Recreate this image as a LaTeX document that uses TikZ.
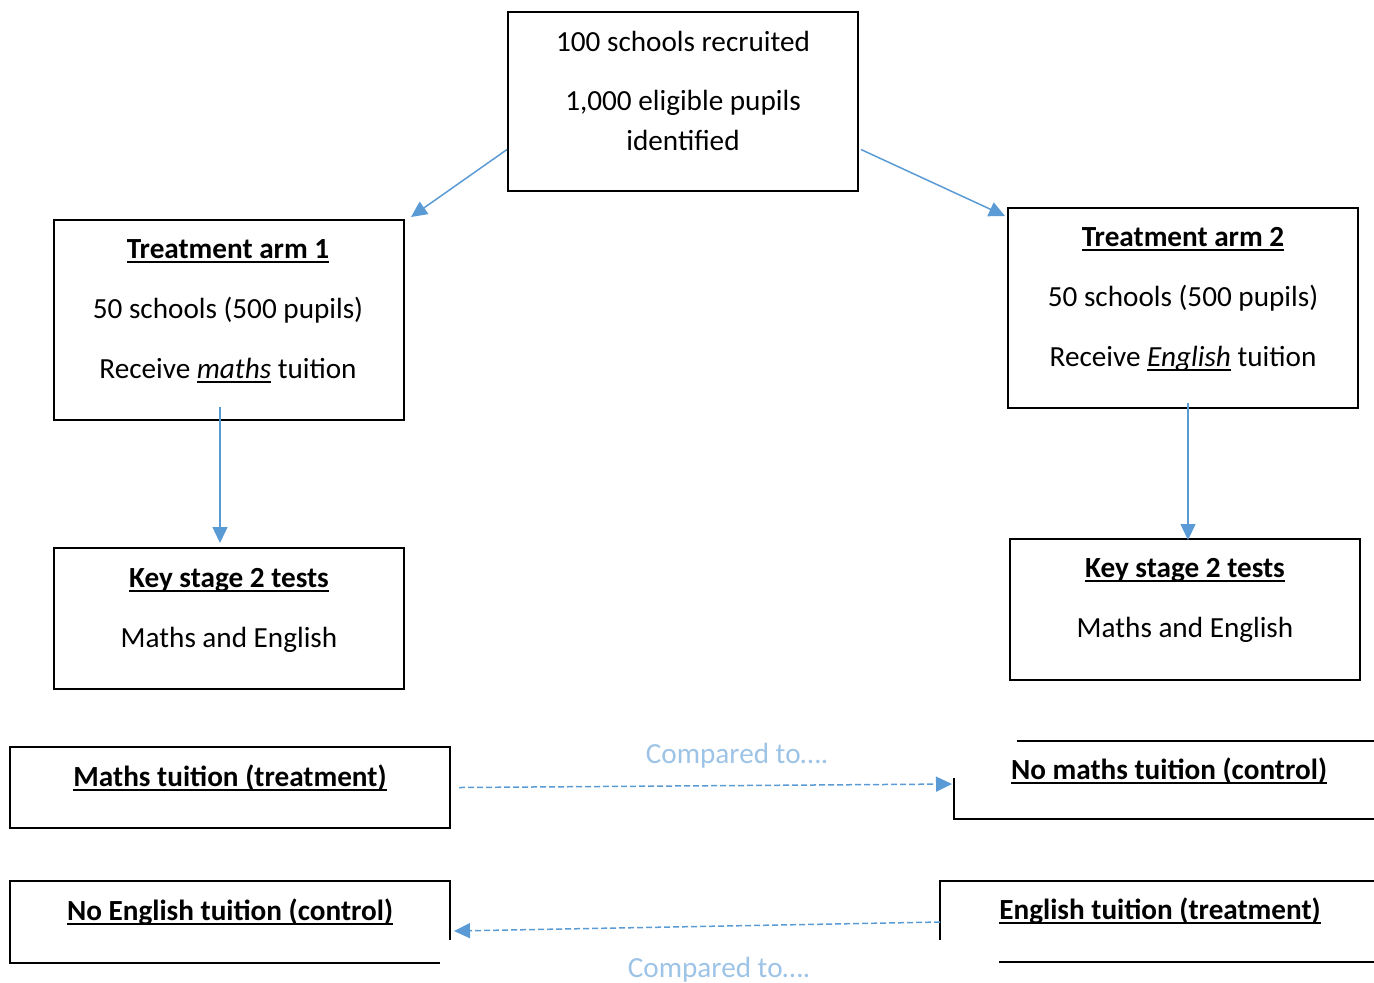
\documentclass[tikz,border=0pt]{standalone}
\usepackage{fontspec}
\setmainfont{Carlito}
\usetikzlibrary{arrows.meta,positioning}
\definecolor{flowblue}{HTML}{5B9BD5}
\definecolor{labelblue}{HTML}{9DC3E6}
\newcommand{\clrarrow}{flowblue}
\newcommand{\clrlabel}{labelblue}
\newcommand{\ulx}[1]{\setbox0\hbox{#1}\rlap{\rule[-2.6pt]{\wd0}{1pt}}\box0\relax}

\begin{document}
\begin{tikzpicture}[x=0.5pt,y=-0.5pt,
    box/.style={draw, line width=1pt, inner sep=0pt},
    txt/.style={anchor=base, inner sep=0pt, font=\fontsize{14.6}{17}\selectfont},
    flow/.style={\clrarrow, line width=0.75pt, -{Triangle[length=8pt,width=7.5pt]}},
    cmp/.style={flow, dash pattern=on 3pt off 1.5pt}]

        \useasboundingbox (0,0) rectangle (1374,982);

        % boxes
        \node[box, minimum width=175pt, minimum height=89.5pt] (recruit) at (683,101.5) {};
        \node[box, minimum width=175pt, minimum height=100pt] (arma) at (229,320) {};
        \node[box, minimum width=175pt, minimum height=100pt] (armb) at (1183,308) {};
        \node[box, minimum width=175pt, minimum height=70.5pt] (ksa) at (229,618.5) {};
        \node[box, minimum width=175pt, minimum height=70.5pt] (ksb) at (1185,609.5) {};
        \node[box, minimum width=220pt, minimum height=40.5pt] (mathst) at (230,787.5) {};

        % clipped boxes at the bottom
        \coordinate (nomaths) at (954,784);
        \coordinate (engt) at (940,922);
        \coordinate (noeng) at (450,931);
        \draw[line width=1pt] (1017,741) -- (1374,741);
        \draw[line width=1pt] (954,778) -- (954,819) -- (1374,819);
        \draw[line width=1pt] (450,940) -- (450,881) -- (10,881) -- (10,963) -- (440,963);
        \draw[line width=1pt] (940,940) -- (940,881) -- (1374,881);
        \draw[line width=1pt] (999,962) -- (1374,962);

        % texts
        \node[txt] (recruita) at (683,51) {100 schools recruited};
        \node[txt] (recruitb) at (683,110) {1,000 eligible pupils};
        \node[txt] (recruitc) at (683,150) {identified};

        \node[txt] (armahead) at (228,258) {\bfseries\ulx{Treatment arm 1}};
        \node[txt] (armaschools) at (228,318) {50 schools (500 pupils)};
        \node[txt] (armatuition) at (228,378) {Receive \ulx{\itshape maths} tuition};

        \node[txt] (armbhead) at (1183,246) {\bfseries\ulx{Treatment arm 2}};
        \node[txt] (armbschools) at (1183,306) {50 schools (500 pupils)};
        \node[txt] (armbtuition) at (1183,366) {Receive \ulx{\itshape English} tuition};

        \node[txt] (ksahead) at (229,587) {\bfseries\ulx{Key stage 2 tests}};
        \node[txt] (ksasub) at (229,647) {Maths and English};
        \node[txt] (ksbhead) at (1185,577) {\bfseries\ulx{Key stage 2 tests}};
        \node[txt] (ksbsub) at (1185,637) {Maths and English};

        \node[txt] (mathsthead) at (230,786) {\bfseries\ulx{Maths tuition (treatment)}};
        \node[txt] (nomathshead) at (1169,779) {\bfseries\ulx{No maths tuition (control)}};
        \node[txt] (noenghead) at (230,920) {\bfseries\ulx{No English tuition (control)}};
        \node[txt] (engthead) at (1160,919) {\bfseries\ulx{English tuition (treatment)}};

        \node[txt, \clrlabel] (cmpa) at (737,763) {Compared to….};
        \node[txt, \clrlabel] (cmpb) at (719,977) {Compared to….};

        % arrows
        \draw[flow] ([yshift=-24pt]recruit.west) -- ([xshift=3pt,yshift=1pt]arma.north east);
        \draw[flow] ([xshift=1pt,yshift=-24pt]recruit.east) -- ([xshift=-1pt,yshift=-4.5pt]armb.north west);
        \draw[flow] ([yshift=7pt]arma.south -| 220,0) -- ([yshift=2pt]ksa.north -| 220,0);
        \draw[flow] ([yshift=3pt]armb.south -| 1188,0) -- ([yshift=-1pt]ksb.north -| 1188,0);

        \draw[cmp] ([xshift=4pt]mathst.east) -- ([xshift=-1pt]nomaths);
        \draw[cmp] (engt) -- ([xshift=2pt]noeng);

\end{tikzpicture}
\end{document}
